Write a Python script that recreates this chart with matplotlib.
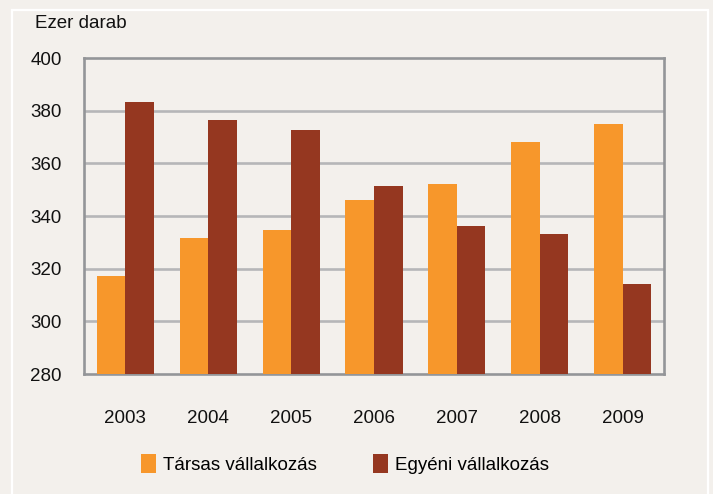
import matplotlib.pyplot as plt
import numpy as np
from matplotlib.patches import Rectangle

plt.rcParams['font.family'] = ['Liberation Sans Narrow', 'Liberation Sans', 'DejaVu Sans']

# data (ezer darab)
years = ['2003', '2004', '2005', '2006', '2007', '2008', '2009']
tarsas = [317.2, 331.7, 334.7, 346.1, 352.2, 368.1, 375.0]
egyeni = [383.3, 376.5, 372.7, 351.4, 336.2, 333.2, 314.2]
labels = ['Társas vállalkozás', 'Egyéni vállalkozás']
yticks = [280, 300, 320, 340, 360, 380, 400]

bg = '#f3f0ec'
c_orange = '#f7972b'
c_brown = '#953720'
c_spine = '#939598'
c_grid = '#b6b6b8'

fig = plt.figure(figsize=(7.13, 4.94), dpi=100, facecolor=bg)
# white frame around the whole figure
fig.patches.append(Rectangle((12/713, -0.05), 696/713, 1 - 10/494 + 0.05,
                             transform=fig.transFigure, fill=False,
                             edgecolor='white', linewidth=1.6))

ax = fig.add_axes([84/713, 1 - 374/494, 580/713, 316/494])
ax.set_facecolor(bg)

x = np.arange(len(years))
w = 0.345
ax.bar(x - w/2, tarsas, w, color=c_orange, label=labels[0], zorder=3)
ax.bar(x + w/2, egyeni, w, color=c_brown, label=labels[1], zorder=3)

ax.set_xlim(-0.5, len(years) - 0.5)
ax.set_ylim(280, 400)
ax.set_yticks(yticks)
ax.set_xticks(x)
ax.set_xticklabels(years)
ax.tick_params(axis='both', length=0, labelsize=13.5, colors='#111111')
ax.tick_params(axis='x', pad=26)
ax.tick_params(axis='y', pad=16)

for y in yticks[1:-1]:
    ax.axhline(y, color=c_grid, linewidth=1.9, zorder=1)
for s in ax.spines.values():
    s.set_color(c_spine)
    s.set_linewidth(1.9)

fig.text(35/713, 1 - 24/494, 'Ezer darab', fontsize=13.5, va='center', ha='left',
         color='#111111')

fig.legend(loc='center', bbox_to_anchor=(345/713, 1 - 464/494), ncol=2,
           frameon=False, fontsize=13.5, handlelength=0.8, handleheight=1.2,
           handletextpad=0.35, columnspacing=3.0)

fig.savefig('out.png', dpi=100, facecolor=bg)
